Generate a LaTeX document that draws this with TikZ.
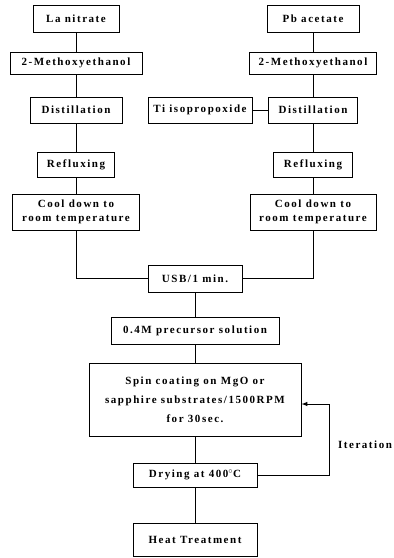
\documentclass[tikz,border=0pt]{standalone}
\usepackage{fontspec}
\newfontfamily\boxfont[LetterSpace=14]{Liberation Serif}
\usepackage{tikz}
\usetikzlibrary{arrows,positioning,calc}
\tikzstyle{procbox}=[rectangle, draw, line width=1pt, inner sep=0pt, align=center, font=\boxfont\bfseries\fontsize{11}{13.5}\selectfont]
\tikzstyle{link}=[line width=1pt]
\tikzstyle{looparrow}=[->, >=latex, line width=1pt]

\begin{document}
\begin{tikzpicture}[x=1pt,y=-1pt]
        \useasboundingbox (0,0) rectangle (394,558);
        % left branch
        \node[procbox, minimum width=86, minimum height=27] (lanit) at (76,18.5) {La nitrate};
        \node[procbox, minimum width=132, minimum height=22] (lmeth) at (76,63) {2-Methoxyethanol};
        \node[procbox, minimum width=92, minimum height=26] (ldist) at (76,110) {Distillation};
        \node[procbox, minimum width=77, minimum height=25] (lrefl) at (76,164.5) {Refluxing};
        \node[procbox, minimum width=127, minimum height=36] (lcool) at (76,212) {Cool down to\\room temperature};
        % right branch
        \node[procbox, minimum width=92, minimum height=27] (pbac) at (313,18.5) {Pb acetate};
        \node[procbox, minimum width=127, minimum height=22] (rmeth) at (313,63) {2-Methoxyethanol};
        \node[procbox, minimum width=89, minimum height=26] (rdist) at (313,110) {Distillation};
        \node[procbox, minimum width=104, minimum height=26] (tiiso) at (200,110) {Ti isopropoxide};
        \node[procbox, minimum width=79, minimum height=25] (rrefl) at (313,164.5) {Refluxing};
        \node[procbox, minimum width=126, minimum height=36] (rcool) at (313,212) {Cool down to\\room temperature};
        % common part
        \node[procbox, minimum width=94, minimum height=27] (usb) at (195,278.5) {USB/1 min.};
        \node[procbox, minimum width=168, minimum height=27] (prec) at (195,330.5) {0.4M precursor solution};
        \node[procbox, minimum width=212, minimum height=73, font=\boxfont\bfseries\fontsize{11}{19}\selectfont] (spin) at (195,399.5) {Spin coating on MgO or\\sapphire substrates/1500RPM\\for 30sec.};
        \node[procbox, minimum width=124, minimum height=24] (dry) at (195,475) {Drying at 400$^{\circ}$C};
        \node[procbox, minimum width=124, minimum height=33] (heat) at (195,539.5) {Heat Treatment};
        \node[font=\boxfont\bfseries\fontsize{11}{13.5}\selectfont] (iter) at (365,445) {Iteration};
        \coordinate (itr) at (329,404);
        \draw[link] (lanit) -- (lmeth);
        \draw[link] (lmeth) -- (ldist);
        \draw[link] (ldist) -- (lrefl);
        \draw[link] (lrefl) -- (lcool);
        \draw[link] (pbac.south -| rmeth) -- (rmeth);
        \draw[link] (rmeth) -- (rdist);
        \draw[link] (tiiso) -- (rdist);
        \draw[link] (rdist) -- (rrefl);
        \draw[link] (rrefl) -- (rcool);
        \draw[link] (lcool.south) |- (usb.west);
        \draw[link] (rcool.south) |- (usb.east);
        \draw[link] (usb) -- (prec);
        \draw[link] (prec) -- (spin);
        \draw[link] (spin) -- (dry);
        \draw[link] (dry) -- (heat);
        \draw[looparrow] (dry.east) -| (itr) -- (spin.east |- itr);
      \end{tikzpicture}
\end{document}
